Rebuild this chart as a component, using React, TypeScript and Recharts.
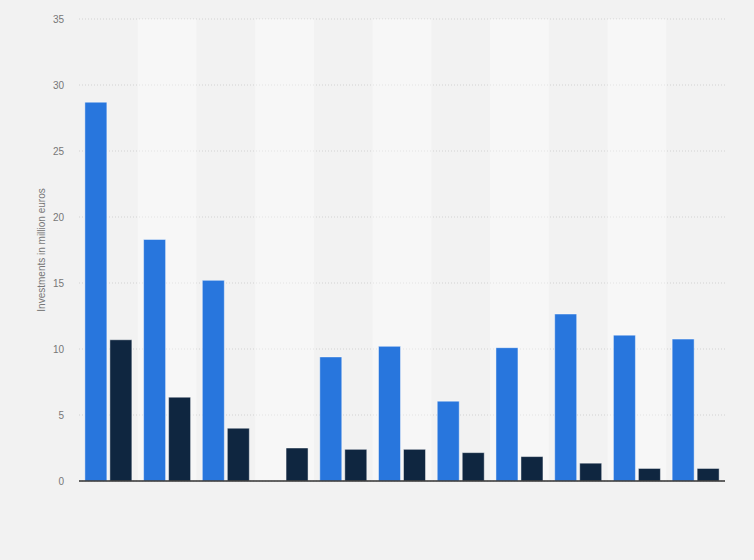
import { BarChart, Bar, XAxis, YAxis, CartesianGrid, ReferenceArea } from 'recharts';

const categories = ['1', '2', '3', '4', '5', '6', '7', '8', '9', '10', '11'];
const seriesA = [28.7, 18.3, 15.2, 0, 9.4, 10.2, 6.05, 10.1, 12.65, 11.05, 10.75];
const seriesB = [10.7, 6.35, 4.0, 2.5, 2.4, 2.4, 2.15, 1.85, 1.35, 0.95, 0.95];
const yTicks = [0, 5, 10, 15, 20, 25, 30, 35];

const data = categories.map((name, i) => ({ name, a: seriesA[i], b: seriesB[i] }));

const font = '"Liberation Sans", Arial, sans-serif';

export default function App() {
  return (
    <div style={{ position: 'absolute', left: 0, top: 0, width: 754, height: 560, background: '#f2f2f2', fontFamily: font }}>
      <BarChart
        width={754}
        height={560}
        data={data}
        margin={{ top: 19, right: 29, bottom: 49, left: 19 }}
        barCategoryGap="10%"
        barGap={3}
      >
        <CartesianGrid vertical={false} stroke="#d2d2d2" strokeDasharray="1 2" />
        {categories.map((c, i) =>
          i % 2 === 1 ? (
            <ReferenceArea key={c} x1={c} x2={c} fill="#ffffff" fillOpacity={0.4} stroke="none" />
          ) : null
        )}
        <XAxis dataKey="name" tick={false} tickLine={false} axisLine={{ stroke: '#333', strokeWidth: 1.5 }} height={30} />
        <YAxis
          ticks={yTicks}
          domain={[0, 35]}
          axisLine={false}
          tickLine={false}
          width={60}
          tickMargin={9}
          tick={{ fill: '#777', fontSize: 10, fontFamily: font }}
          label={{
            value: 'Investments in million euros',
            angle: -90,
            position: 'insideLeft',
            offset: 22,
            style: { textAnchor: 'middle', fill: '#777', fontSize: 10, fontFamily: font },
          }}
        />
        <Bar dataKey="a" fill="#2876dd" stroke="#ffffff" strokeOpacity={0.45} isAnimationActive={false} />
        <Bar dataKey="b" fill="#0f2640" stroke="#ffffff" strokeOpacity={0.45} isAnimationActive={false} />
      </BarChart>
    </div>
  );
}
